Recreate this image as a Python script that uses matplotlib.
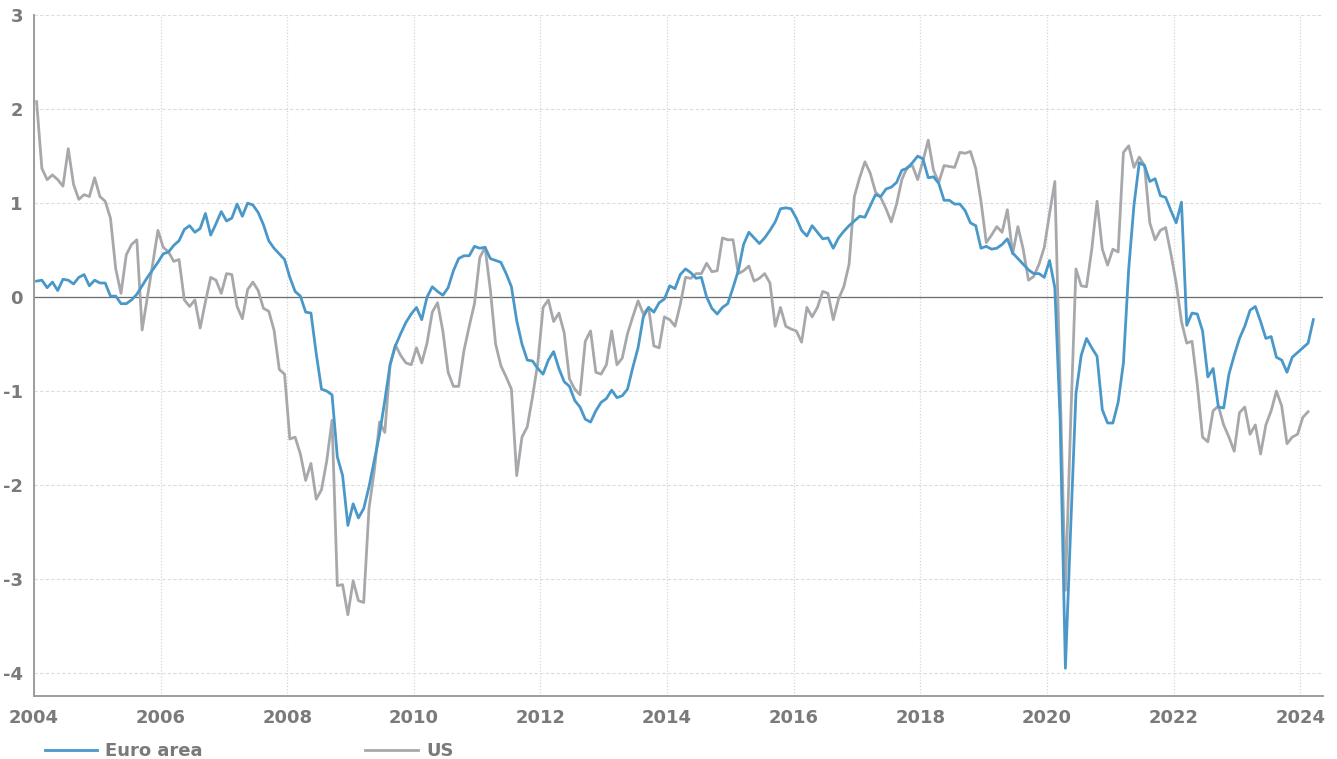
import numpy as np
import matplotlib
matplotlib.use("Agg")
import matplotlib.pyplot as plt

plt.rcParams["axes.unicode_minus"] = False

# monatliche Werte, Jan 2004 bis Mär 2024 (Euro) bzw. Feb 2024 (US)
euro_area = [
    0.17, 0.18, 0.10, 0.16, 0.07, 0.19, 0.18, 0.14, 0.21, 0.24, 0.12, 0.18,
    0.15, 0.15, 0.01, 0.01, -0.07, -0.07, -0.03, 0.03, 0.12, 0.21, 0.29, 0.37,
    0.46, 0.48, 0.55, 0.60, 0.72, 0.76, 0.69, 0.73, 0.89, 0.66, 0.78, 0.91,
    0.81, 0.84, 0.99, 0.86, 1.00, 0.98, 0.90, 0.77, 0.60, 0.52, 0.46, 0.40,
    0.21, 0.06, 0.01, -0.16, -0.17, -0.60, -0.98, -1.00, -1.04, -1.70, -1.90, -2.43,
    -2.20, -2.35, -2.25, -2.02, -1.74, -1.46, -1.10, -0.72, -0.52, -0.39, -0.27, -0.18,
    -0.11, -0.24, 0.00, 0.11, 0.06, 0.02, 0.10, 0.28, 0.41, 0.44, 0.44, 0.54,
    0.52, 0.53, 0.41, 0.39, 0.37, 0.25, 0.11, -0.25, -0.50, -0.67, -0.68, -0.76,
    -0.82, -0.67, -0.58, -0.76, -0.90, -0.95, -1.10, -1.17, -1.30, -1.33, -1.21, -1.12,
    -1.08, -0.99, -1.07, -1.05, -0.98, -0.75, -0.54, -0.21, -0.11, -0.16, -0.06, -0.02,
    0.12, 0.09, 0.24, 0.30, 0.26, 0.20, 0.21, 0.00, -0.12, -0.18, -0.11, -0.07,
    0.10, 0.28, 0.56, 0.69, 0.63, 0.57, 0.63, 0.71, 0.80, 0.94, 0.95, 0.94,
    0.84, 0.71, 0.65, 0.76, 0.69, 0.62, 0.63, 0.52, 0.63, 0.70, 0.76, 0.81,
    0.86, 0.85, 0.97, 1.09, 1.07, 1.15, 1.17, 1.22, 1.35, 1.37, 1.43, 1.50,
    1.47, 1.27, 1.28, 1.21, 1.03, 1.03, 0.99, 0.99, 0.92, 0.79, 0.76, 0.52,
    0.54, 0.51, 0.52, 0.56, 0.62, 0.47, 0.41, 0.35, 0.29, 0.25, 0.25, 0.21,
    0.39, 0.10, -1.30, -3.95, -2.46, -1.03, -0.62, -0.44, -0.54, -0.63, -1.20, -1.34,
    -1.34, -1.12, -0.70, 0.30, 0.98, 1.43, 1.40, 1.23, 1.26, 1.08, 1.06, 0.92,
    0.79, 1.01, -0.30, -0.17, -0.18, -0.36, -0.85, -0.76, -1.17, -1.18, -0.82, -0.62,
    -0.44, -0.31, -0.14, -0.10, -0.26, -0.44, -0.42, -0.64, -0.67, -0.80, -0.64, -0.59,
    -0.54, -0.49, -0.24,
]

us = [
    2.08, 1.37, 1.25, 1.30, 1.25, 1.18, 1.58, 1.20, 1.04, 1.09, 1.07, 1.27,
    1.07, 1.02, 0.84, 0.30, 0.04, 0.45, 0.56, 0.61, -0.35, 0.00, 0.35, 0.71,
    0.53, 0.48, 0.38, 0.40, -0.03, -0.10, -0.03, -0.33, -0.05, 0.21, 0.18, 0.04,
    0.25, 0.24, -0.10, -0.23, 0.08, 0.16, 0.07, -0.12, -0.15, -0.35, -0.77, -0.82,
    -1.51, -1.49, -1.67, -1.95, -1.77, -2.15, -2.05, -1.74, -1.31, -3.07, -3.06, -3.38,
    -3.02, -3.23, -3.25, -2.25, -1.85, -1.33, -1.44, -0.72, -0.51, -0.62, -0.70, -0.72,
    -0.54, -0.70, -0.49, -0.16, -0.06, -0.36, -0.80, -0.95, -0.95, -0.57, -0.31, -0.07,
    0.42, 0.53, 0.08, -0.50, -0.73, -0.85, -0.98, -1.90, -1.49, -1.38, -1.06, -0.70,
    -0.11, -0.03, -0.26, -0.17, -0.38, -0.87, -0.98, -1.04, -0.47, -0.36, -0.80, -0.82,
    -0.72, -0.36, -0.72, -0.65, -0.39, -0.21, -0.04, -0.18, -0.11, -0.52, -0.54, -0.21,
    -0.24, -0.31, -0.08, 0.21, 0.20, 0.25, 0.25, 0.36, 0.27, 0.28, 0.63, 0.61,
    0.61, 0.25, 0.28, 0.33, 0.17, 0.20, 0.25, 0.15, -0.31, -0.11, -0.31, -0.34,
    -0.36, -0.48, -0.11, -0.21, -0.11, 0.06, 0.04, -0.24, -0.02, 0.11, 0.35, 1.07,
    1.27, 1.44, 1.32, 1.12, 1.06, 0.94, 0.80, 0.99, 1.25, 1.38, 1.40, 1.25,
    1.45, 1.67, 1.35, 1.22, 1.40, 1.39, 1.38, 1.54, 1.53, 1.55, 1.37, 1.02,
    0.58, 0.66, 0.75, 0.69, 0.93, 0.46, 0.75, 0.51, 0.18, 0.22, 0.35, 0.53,
    0.89, 1.23, -0.93, -3.12, -1.33, 0.30, 0.12, 0.11, 0.51, 1.02, 0.51, 0.34,
    0.51, 0.48, 1.54, 1.61, 1.38, 1.49, 1.40, 0.79, 0.61, 0.71, 0.74, 0.46,
    0.15, -0.26, -0.49, -0.47, -0.93, -1.49, -1.54, -1.21, -1.16, -1.36, -1.49, -1.64,
    -1.23, -1.17, -1.46, -1.36, -1.67, -1.36, -1.21, -1.00, -1.16, -1.56, -1.49, -1.46,
    -1.28, -1.22,
]

x_ticks = [2004, 2006, 2008, 2010, 2012, 2014, 2016, 2018, 2020, 2022, 2024]
y_ticks = [3, 2, 1, 0, -1, -2, -3, -4]

# Zeitachse als Dezimaljahr (Monatsmitte)
x_euro = 2004 + (np.arange(len(euro_area)) + 0.5) / 12
x_us = 2004 + (np.arange(len(us)) + 0.5) / 12

fig = plt.figure(figsize=(13.37, 7.59), dpi=100)
ax = fig.add_axes([0.0254, 0.083, 0.9641, 0.897])

ax.plot(x_us, us, color="#a6a8ab", linewidth=2.0, label="US", zorder=3)
ax.plot(x_euro, euro_area, color="#4a98c9", linewidth=2.0, label="Euro area", zorder=4)
ax.axhline(0, color="#6b6b6b", linewidth=0.9, zorder=2)

ax.set_xlim(2004, 2024.36)
ax.set_ylim(-4.245, 3.0)
ax.set_xticks(x_ticks)
ax.set_yticks(y_ticks)

ax.grid(axis="y", color="#dcdcdc", linestyle=(0, (3, 2)), linewidth=0.8)
ax.grid(axis="x", color="#d6d6d6", linestyle=(0, (1, 1.5)), linewidth=0.9)
ax.set_axisbelow(True)

for side in ["top", "right"]:
    ax.spines[side].set_visible(False)
for side in ["left", "bottom"]:
    ax.spines[side].set_color("#9d9d9d")
    ax.spines[side].set_linewidth(1.4)

ax.tick_params(length=0, labelsize=13, labelcolor="#7a7a7a")
ax.tick_params(axis="y", pad=8)
ax.tick_params(axis="x", pad=9)
for lbl in ax.get_xticklabels() + ax.get_yticklabels():
    lbl.set_fontweight("bold")

handles, labels = ax.get_legend_handles_labels()
order = [1, 0]
leg = fig.legend([handles[i] for i in order], [labels[i] for i in order],
                 loc="center left", bbox_to_anchor=(45 / 1337, 1 - 751 / 759),
                 ncol=2, frameon=False, fontsize=13, handlelength=2.9,
                 handletextpad=0.45, columnspacing=9.0, borderpad=0, borderaxespad=0)
for t in leg.get_texts():
    t.set_color("#7a7a7a")
    t.set_fontweight("bold")

fig.savefig("out.png", dpi=100)
